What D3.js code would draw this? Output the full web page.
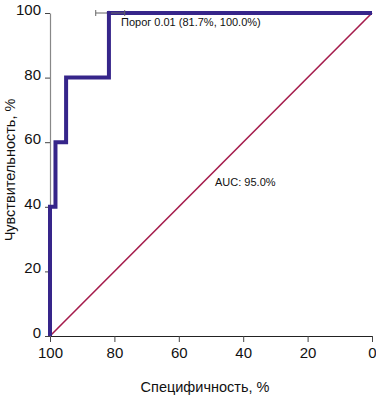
<!DOCTYPE html>
<html>
<head>
<meta charset="utf-8">
<script src="https://cdn.jsdelivr.net/npm/d3@7"></script>
<style>
  body { margin: 0; background: #fff; }
  text { font-family: "Liberation Sans Narrow", "Arial Narrow", "Liberation Sans", sans-serif; fill: #111; }
</style>
</head>
<body>
<div id="chart"></div>
<script>
// ROC curve points: specificity %, sensitivity %
const specificity = [100, 100, 98.3, 98.3, 95, 95, 81.7, 81.7, 0];
const sensitivity = [0, 40, 40, 60, 60, 80, 80, 100, 100];
const xTicks = [100, 80, 60, 40, 20, 0];
const yTicks = [0, 20, 40, 60, 80, 100];
const threshold = { spec: 81.7, sens: 100, lo: 85.8, hi: 76.8 };

const width = 376, height = 401;
const x = d3.scaleLinear().domain([100, 0]).range([50, 372]);
const y = d3.scaleLinear().domain([0, 100]).range([336, 13]);

const svg = d3.select("#chart").append("svg")
    .attr("width", width)
    .attr("height", height);

// axes
const xAxis = svg.append("g")
    .attr("transform", "translate(0,336)")
    .call(d3.axisBottom(x).tickValues(xTicks).tickSize(6).tickPadding(5).tickSizeOuter(0));
xAxis.select(".domain").attr("stroke", "#222").attr("stroke-width", 1.2);
xAxis.selectAll(".tick line").attr("stroke", "#444");
xAxis.selectAll("text").style("font-size", "15px");

const yAxis = svg.append("g")
    .attr("transform", "translate(50,0)")
    .call(d3.axisLeft(y).tickValues(yTicks).tickSize(5).tickPadding(4).tickSizeOuter(0));
yAxis.select(".domain").attr("stroke", "#888").attr("stroke-width", 1.2);
yAxis.selectAll(".tick line").attr("stroke", "#444");
yAxis.selectAll("text").style("font-size", "15px").attr("dy", "0.1em");

// diagonal
svg.append("line")
    .attr("x1", x(100)).attr("y1", y(0))
    .attr("x2", x(0)).attr("y2", y(100))
    .attr("stroke", "#a51c4c")
    .attr("stroke-width", 1.6);

// ROC curve
const pts = specificity.map((s, i) => [s, sensitivity[i]]);
svg.append("path")
    .datum(pts)
    .attr("fill", "none")
    .attr("stroke", "#36258a")
    .attr("stroke-width", 4)
    .attr("stroke-linejoin", "miter")
    .attr("d", d3.line().x(d => x(d[0])).y(d => y(d[1])));

// threshold marker
const ty = y(threshold.sens);
svg.append("line")
    .attr("x1", x(threshold.lo)).attr("x2", x(threshold.hi))
    .attr("y1", ty).attr("y2", ty)
    .attr("stroke", "#666").attr("stroke-width", 1);
[threshold.lo, threshold.hi].forEach(v => {
  svg.append("line")
      .attr("x1", x(v)).attr("x2", x(v))
      .attr("y1", ty - 3).attr("y2", ty + 3)
      .attr("stroke", "#666").attr("stroke-width", 1);
});
svg.append("circle")
    .attr("cx", x(threshold.spec)).attr("cy", ty)
    .attr("r", 2.2).attr("fill", "#36258a");

svg.append("text")
    .attr("x", 121).attr("y", 26)
    .style("font-size", "11px")
    .text("Порог 0.01 (81.7%, 100.0%)");

svg.append("text")
    .attr("x", 215).attr("y", 186)
    .style("font-size", "11px")
    .text("AUC: 95.0%");

// axis titles
svg.append("text")
    .attr("x", 205).attr("y", 392)
    .attr("text-anchor", "middle")
    .style("font-size", "14.5px")
    .text("Специфичность, %");

svg.append("text")
    .attr("transform", "translate(15,170) rotate(-90)")
    .attr("text-anchor", "middle")
    .style("font-size", "14.5px")
    .text("Чувствительность, %");
</script>
</body>
</html>
